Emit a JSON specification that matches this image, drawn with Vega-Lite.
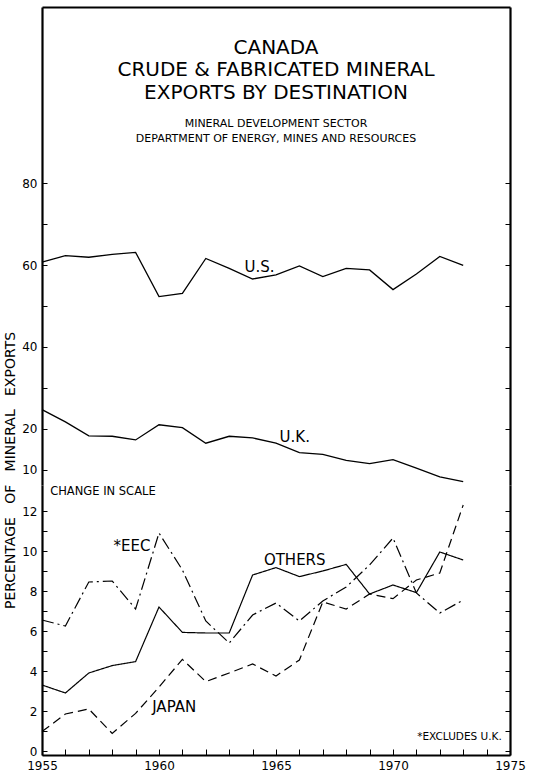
{
  "$schema": "https://vega.github.io/schema/vega-lite/v6.json",
  "padding": {"left": 3, "top": 7, "right": 5, "bottom": 2},
  "background": "white",
  "bounds": "flush",
  "spacing": 0,
  "config": {
    "view": {"stroke": null},
    "font": "DejaVu Sans",
    "axis": {"domainColor": "black", "tickColor": "black", "labelColor": "black", "titleColor": "black", "labelFont": "DejaVu Sans", "titleFont": "DejaVu Sans", "grid": false, "domainWidth": 2.2, "tickWidth": 1, "labelFlush": false, "labelOverlap": false}
  },
  "datasets": {
    "upper": [
      {"year": 1955, "series": "U.S.", "pct": 60.7}, {"year": 1956, "series": "U.S.", "pct": 62.3}, {"year": 1957, "series": "U.S.", "pct": 61.9}, {"year": 1958, "series": "U.S.", "pct": 62.6}, {"year": 1959, "series": "U.S.", "pct": 63.1}, {"year": 1960, "series": "U.S.", "pct": 52.3}, {"year": 1961, "series": "U.S.", "pct": 53.1}, {"year": 1962, "series": "U.S.", "pct": 61.6}, {"year": 1963, "series": "U.S.", "pct": 59.2}, {"year": 1964, "series": "U.S.", "pct": 56.6}, {"year": 1965, "series": "U.S.", "pct": 57.6}, {"year": 1966, "series": "U.S.", "pct": 59.8}, {"year": 1967, "series": "U.S.", "pct": 57.2}, {"year": 1968, "series": "U.S.", "pct": 59.2}, {"year": 1969, "series": "U.S.", "pct": 58.8}, {"year": 1970, "series": "U.S.", "pct": 54.0}, {"year": 1971, "series": "U.S.", "pct": 57.8}, {"year": 1972, "series": "U.S.", "pct": 62.1}, {"year": 1973, "series": "U.S.", "pct": 59.9},
      {"year": 1955, "series": "U.K.", "pct": 24.7}, {"year": 1956, "series": "U.K.", "pct": 21.7}, {"year": 1957, "series": "U.K.", "pct": 18.3}, {"year": 1958, "series": "U.K.", "pct": 18.2}, {"year": 1959, "series": "U.K.", "pct": 17.3}, {"year": 1960, "series": "U.K.", "pct": 21.0}, {"year": 1961, "series": "U.K.", "pct": 20.3}, {"year": 1962, "series": "U.K.", "pct": 16.5}, {"year": 1963, "series": "U.K.", "pct": 18.2}, {"year": 1964, "series": "U.K.", "pct": 17.8}, {"year": 1965, "series": "U.K.", "pct": 16.5}, {"year": 1966, "series": "U.K.", "pct": 14.2}, {"year": 1967, "series": "U.K.", "pct": 13.8}, {"year": 1968, "series": "U.K.", "pct": 12.3}, {"year": 1969, "series": "U.K.", "pct": 11.5}, {"year": 1970, "series": "U.K.", "pct": 12.5}, {"year": 1971, "series": "U.K.", "pct": 10.4}, {"year": 1972, "series": "U.K.", "pct": 8.3}, {"year": 1973, "series": "U.K.", "pct": 7.1}
    ],
    "lower": [
      {"year": 1955, "series": "EEC", "pct": 6.55}, {"year": 1956, "series": "EEC", "pct": 6.25}, {"year": 1957, "series": "EEC", "pct": 8.45}, {"year": 1958, "series": "EEC", "pct": 8.5}, {"year": 1959, "series": "EEC", "pct": 7.1}, {"year": 1960, "series": "EEC", "pct": 10.9}, {"year": 1961, "series": "EEC", "pct": 9.05}, {"year": 1962, "series": "EEC", "pct": 6.5}, {"year": 1963, "series": "EEC", "pct": 5.4}, {"year": 1964, "series": "EEC", "pct": 6.8}, {"year": 1965, "series": "EEC", "pct": 7.4}, {"year": 1966, "series": "EEC", "pct": 6.5}, {"year": 1967, "series": "EEC", "pct": 7.5}, {"year": 1968, "series": "EEC", "pct": 8.2}, {"year": 1969, "series": "EEC", "pct": 9.3}, {"year": 1970, "series": "EEC", "pct": 10.65}, {"year": 1971, "series": "EEC", "pct": 7.9}, {"year": 1972, "series": "EEC", "pct": 6.9}, {"year": 1973, "series": "EEC", "pct": 7.55},
      {"year": 1955, "series": "OTHERS", "pct": 3.3}, {"year": 1956, "series": "OTHERS", "pct": 2.9}, {"year": 1957, "series": "OTHERS", "pct": 3.9}, {"year": 1958, "series": "OTHERS", "pct": 4.27}, {"year": 1959, "series": "OTHERS", "pct": 4.47}, {"year": 1960, "series": "OTHERS", "pct": 7.2}, {"year": 1961, "series": "OTHERS", "pct": 5.93}, {"year": 1962, "series": "OTHERS", "pct": 5.9}, {"year": 1963, "series": "OTHERS", "pct": 5.9}, {"year": 1964, "series": "OTHERS", "pct": 8.8}, {"year": 1965, "series": "OTHERS", "pct": 9.17}, {"year": 1966, "series": "OTHERS", "pct": 8.72}, {"year": 1967, "series": "OTHERS", "pct": 9.0}, {"year": 1968, "series": "OTHERS", "pct": 9.33}, {"year": 1969, "series": "OTHERS", "pct": 7.85}, {"year": 1970, "series": "OTHERS", "pct": 8.3}, {"year": 1971, "series": "OTHERS", "pct": 7.92}, {"year": 1972, "series": "OTHERS", "pct": 9.95}, {"year": 1973, "series": "OTHERS", "pct": 9.55},
      {"year": 1955, "series": "JAPAN", "pct": 0.97}, {"year": 1956, "series": "JAPAN", "pct": 1.85}, {"year": 1957, "series": "JAPAN", "pct": 2.1}, {"year": 1958, "series": "JAPAN", "pct": 0.88}, {"year": 1959, "series": "JAPAN", "pct": 1.88}, {"year": 1960, "series": "JAPAN", "pct": 3.2}, {"year": 1961, "series": "JAPAN", "pct": 4.58}, {"year": 1962, "series": "JAPAN", "pct": 3.47}, {"year": 1963, "series": "JAPAN", "pct": 3.9}, {"year": 1964, "series": "JAPAN", "pct": 4.35}, {"year": 1965, "series": "JAPAN", "pct": 3.75}, {"year": 1966, "series": "JAPAN", "pct": 4.55}, {"year": 1967, "series": "JAPAN", "pct": 7.45}, {"year": 1968, "series": "JAPAN", "pct": 7.1}, {"year": 1969, "series": "JAPAN", "pct": 7.85}, {"year": 1970, "series": "JAPAN", "pct": 7.62}, {"year": 1971, "series": "JAPAN", "pct": 8.55}, {"year": 1972, "series": "JAPAN", "pct": 8.9}, {"year": 1973, "series": "JAPAN", "pct": 12.3}
    ]
  },
  "vconcat": [
    {
      "width": 468,
      "height": 478,
      "title": {
        "text": ["CANADA", "CRUDE & FABRICATED MINERAL", "EXPORTS BY DESTINATION"],
        "subtitle": ["MINERAL DEVELOPMENT SECTOR", "DEPARTMENT OF ENERGY, MINES AND RESOURCES"],
        "anchor": "middle", "frame": "group", "offset": -137, "dx": 0,
        "font": "DejaVu Sans", "fontSize": 20, "fontWeight": "normal", "lineHeight": 22.5, "color": "black",
        "subtitleFont": "DejaVu Sans", "subtitleFontSize": 11, "subtitleLineHeight": 15.5, "subtitlePadding": 15, "subtitleColor": "black"
      },
      "resolve": {"axis": {"x": "shared", "y": "independent"}},
      "layer": [
        {
          "data": {"name": "upper"},
          "mark": {"type": "line", "color": "black", "strokeWidth": 1.3},
          "encoding": {
            "x": {"field": "year", "type": "quantitative", "scale": {"domain": [1955, 1975], "nice": false, "zero": false},
                  "axis": {"orient": "top", "labels": false, "ticks": false, "title": null}},
            "y": {"field": "pct", "type": "quantitative", "scale": {"domain": [6.3, 123], "nice": false, "zero": false},
                  "axis": {"orient": "left", "values": [10, 20, 30, 40, 50, 60, 70, 80], "labelExpr": "datum.value == 30 || datum.value == 50 || datum.value == 70 ? '' : datum.label",
                           "tickSize": -5, "labelPadding": 10, "labelFontSize": 12, "labelOverlap": false,
                           "title": "PERCENTAGE\u00a0\u00a0\u00a0OF\u00a0\u00a0\u00a0MINERAL\u00a0\u00a0\u00a0EXPORTS", "titleFontSize": 14, "titleFontWeight": "normal",
                           "titleX": -25, "titleY": 463, "titleAngle": 270, "titleAlign": "center", "titleBaseline": "bottom"}},
            "detail": {"field": "series", "type": "nominal"}
          }
        },
        {
          "data": {"values": [{}]},
          "mark": {"type": "text", "text": "U.S.", "fontSize": 15, "font": "DejaVu Sans", "color": "black"},
          "encoding": {
            "x": {"datum": 1964.3, "type": "quantitative", "axis": {"orient": "top", "labels": false, "ticks": false, "title": null}},
            "y": {"datum": 59.5, "type": "quantitative", "axis": {"orient": "right", "values": [10, 20, 30, 40, 50, 60, 70, 80], "labels": false, "tickSize": -5, "title": null}}
          }
        },
        {
          "data": {"values": [{}]},
          "mark": {"type": "text", "text": "U.K.", "fontSize": 15, "font": "DejaVu Sans", "color": "black"},
          "encoding": {
            "x": {"datum": 1965.8, "type": "quantitative", "axis": {"orient": "top", "labels": false, "ticks": false, "title": null}},
            "y": {"datum": 18.0, "type": "quantitative", "axis": null}
          }
        }
      ]
    },
    {
      "width": 468,
      "height": 270,
      "resolve": {"axis": {"x": "shared", "y": "independent"}},
      "encoding": {
        "x": {"type": "quantitative", "scale": {"domain": [1955, 1975], "nice": false, "zero": false},
              "axis": {"orient": "bottom", "values": [1955,1956,1957,1958,1959,1960,1961,1962,1963,1964,1965,1966,1967,1968,1969,1970,1971,1972,1973,1974,1975],
                       "labelExpr": "indexof([1955, 1960, 1965, 1970, 1975], datum.value) >= 0 ? '' + datum.value : ''", "tickSize": -6, "labelPadding": 11, "labelFontSize": 12, "labelOverlap": false, "labelFlush": false, "labelBound": false, "title": null}}
      },
      "layer": [
        {
          "data": {"name": "lower"},
          "mark": {"type": "line", "color": "black", "strokeWidth": 1.2},
          "encoding": {
            "x": {"field": "year", "type": "quantitative"},
            "y": {"field": "pct", "type": "quantitative", "scale": {"domain": [-0.2, 13.3], "nice": false, "zero": false},
                  "axis": {"orient": "left", "values": [0,1,2,3,4,5,6,7,8,9,10,11,12], "labelExpr": "datum.value % 2 == 0 ? datum.label : ''",
                           "tickSize": -5, "labelPadding": 10, "labelFontSize": 12, "labelOverlap": false, "title": null}},
            "strokeDash": {"field": "series", "type": "nominal", "legend": null,
                           "scale": {"domain": ["OTHERS", "EEC", "JAPAN"], "range": [[1, 0], [12, 4, 2, 4], [9, 5]]}}
          }
        },
        {
          "data": {"values": [{}]},
          "mark": {"type": "text", "text": "*EEC", "fontSize": 15, "font": "DejaVu Sans", "color": "black"},
          "encoding": {
            "x": {"datum": 1958.85, "type": "quantitative"},
            "y": {"datum": 10.25, "type": "quantitative", "axis": {"orient": "right", "values": [0,1,2,3,4,5,6,7,8,9,10,11,12], "labels": false, "tickSize": -5, "title": null}}
          }
        },
        {
          "data": {"values": [{}]},
          "mark": {"type": "text", "text": "OTHERS", "fontSize": 15, "font": "DejaVu Sans", "color": "black"},
          "encoding": {"x": {"datum": 1965.8, "type": "quantitative"}, "y": {"datum": 9.55, "type": "quantitative", "axis": null}}
        },
        {
          "data": {"values": [{}]},
          "mark": {"type": "text", "text": "JAPAN", "fontSize": 15, "font": "DejaVu Sans", "color": "black"},
          "encoding": {"x": {"datum": 1960.65, "type": "quantitative"}, "y": {"datum": 2.2, "type": "quantitative", "axis": null}}
        },
        {
          "data": {"values": [{}]},
          "mark": {"type": "text", "text": "CHANGE IN SCALE", "fontSize": 11.5, "font": "DejaVu Sans", "color": "black", "align": "left"},
          "encoding": {"x": {"datum": 1955.35, "type": "quantitative"}, "y": {"datum": 12.95, "type": "quantitative", "axis": null}}
        },
        {
          "data": {"values": [{}]},
          "mark": {"type": "text", "text": "*EXCLUDES U.K.", "fontSize": 10.5, "font": "DejaVu Sans", "color": "black", "align": "right"},
          "encoding": {"x": {"datum": 1974.65, "type": "quantitative"}, "y": {"datum": 0.7, "type": "quantitative", "axis": null}}
        }
      ]
    }
  ]
}
